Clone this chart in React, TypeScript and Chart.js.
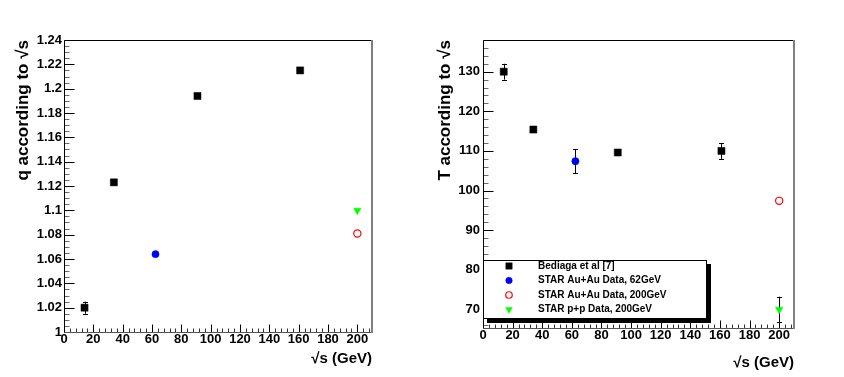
import React, { useEffect, useRef } from "react";
import { Chart, registerables } from "chart.js";
import { drawPoint } from "chart.js/helpers";

Chart.register(...registerables);

const FONT = "'Liberation Sans', Arial, Helvetica, sans-serif";

// ---------------- data ----------------
const seriesLabels = [
  "Bediaga et al [7]",
  "STAR Au+Au Data, 62GeV",
  "STAR Au+Au Data, 200GeV",
  "STAR p+p Data, 200GeV",
];

const bediagaSqrtS = [14, 34, 91, 161];
const bediagaQ = [1.02, 1.123, 1.194, 1.215];
const bediagaQErr = [0.005, 0, 0, 0];
const bediagaT = [130, 115.4, 109.6, 110];
const bediagaTErr = [2, 0, 0, 2];

const auau62SqrtS = [62.4];
const auau62Q = [1.064];
const auau62QErr = [0];
const auau62T = [107.4];
const auau62TErr = [3];

const auau200SqrtS = [200];
const auau200Q = [1.081];
const auau200QErr = [0];
const auau200T = [97.4];
const auau200TErr = [0];

const pp200SqrtS = [200];
const pp200Q = [1.1];
const pp200QErr = [0];
const pp200T = [70];
const pp200TErr = [3.2];

// axis ranges / ticks
const xRange = [0, 210];
const xStep = 20;
const qRange = [1, 1.24];
const qStep = 0.02;
const tRange = [65.3, 138];
const tStep = 10;

const xTitle = "√s (GeV)";
const qTitle = "q according to √s";
const tTitle = "T according to √s";

// ---------------- styles ----------------
const seriesStyles = [
  { pointStyle: "rect", pointRadius: 5, backgroundColor: "#000000", borderColor: "#000000", borderWidth: 0.5, rotation: 0 },
  { pointStyle: "circle", pointRadius: 3.6, backgroundColor: "#0000ff", borderColor: "#0000ff", borderWidth: 0.5, rotation: 0 },
  { pointStyle: "circle", pointRadius: 3.6, backgroundColor: "#ffffff", borderColor: "#ff0000", borderWidth: 1.2, rotation: 0 },
  { pointStyle: "triangle", pointRadius: 4.3, backgroundColor: "#00ff00", borderColor: "#00ff00", borderWidth: 0.5, rotation: 180 },
];

function pts(xs: number[], ys: number[]) {
  return xs.map((x, i) => ({ x, y: ys[i] }));
}

function buildDatasets(kind: "q" | "T") {
  const vals =
    kind === "q"
      ? [
          [bediagaSqrtS, bediagaQ, bediagaQErr],
          [auau62SqrtS, auau62Q, auau62QErr],
          [auau200SqrtS, auau200Q, auau200QErr],
          [pp200SqrtS, pp200Q, pp200QErr],
        ]
      : [
          [bediagaSqrtS, bediagaT, bediagaTErr],
          [auau62SqrtS, auau62T, auau62TErr],
          [auau200SqrtS, auau200T, auau200TErr],
          [pp200SqrtS, pp200T, pp200TErr],
        ];
  return vals.map((v, i) => ({
    label: seriesLabels[i],
    data: pts(v[0] as number[], v[1] as number[]),
    yErr: v[2] as number[],
    showLine: false,
    ...seriesStyles[i],
    pointHoverRadius: seriesStyles[i].pointRadius,
  }));
}

// ---------------- plugins ----------------
function tickList(scale: any, major: number, sub: number) {
  const minor = major / sub;
  const out: { v: number; major: boolean }[] = [];
  const start = Math.ceil(scale.min / minor - 1e-6);
  const end = Math.floor(scale.max / minor + 1e-6);
  for (let i = start; i <= end; i++) out.push({ v: i * minor, major: i % sub === 0 });
  return out;
}

const errorBarPlugin = {
  id: "errorBars",
  beforeDatasetsDraw(chart: any) {
    const { ctx, scales } = chart;
    const xs = scales.x;
    const ys = scales.y;
    ctx.save();
    ctx.strokeStyle = "#000";
    ctx.lineWidth = 1;
    chart.data.datasets.forEach((ds: any) => {
      (ds.data as any[]).forEach((p, i) => {
        const e = ds.yErr ? ds.yErr[i] : 0;
        if (!e) return;
        const px = Math.round(xs.getPixelForValue(p.x)) + 0.5;
        const y1 = ys.getPixelForValue(p.y - e);
        const y2 = ys.getPixelForValue(p.y + e);
        ctx.beginPath();
        ctx.moveTo(px, y1);
        ctx.lineTo(px, y2);
        ctx.moveTo(px - 2.5, Math.round(y1) + 0.5);
        ctx.lineTo(px + 2.5, Math.round(y1) + 0.5);
        ctx.moveTo(px - 2.5, Math.round(y2) + 0.5);
        ctx.lineTo(px + 2.5, Math.round(y2) + 0.5);
        ctx.stroke();
      });
    });
    ctx.restore();
  },
};

const rootAxesPlugin = {
  id: "rootAxes",
  afterDatasetsDraw(chart: any, _args: any, opts: any) {
    const { ctx, chartArea: a, scales } = chart;
    const xs = scales.x;
    const ys = scales.y;
    const L = Math.round(a.left) + 0.5;
    const T = Math.round(a.top) + 0.5;
    const R = Math.round(a.right);
    const B = Math.round(a.bottom) + 0.5;
    ctx.save();
    // ticks on y axis (inside frame)
    tickList(ys, opts.yMajor, opts.ySub).forEach((t) => {
      const py = Math.round(ys.getPixelForValue(t.v)) + 0.5;
      ctx.strokeStyle = t.major ? "#000" : "#6a6a6a";
      ctx.lineWidth = 1;
      ctx.beginPath();
      ctx.moveTo(L, py);
      ctx.lineTo(L + (t.major ? 10 : 5), py);
      ctx.stroke();
    });
    // ticks on x axis
    tickList(xs, opts.xMajor, opts.xSub).forEach((t) => {
      const px = Math.round(xs.getPixelForValue(t.v)) + 0.5;
      ctx.strokeStyle = t.major ? "#000" : "#333";
      ctx.lineWidth = 1;
      ctx.beginPath();
      ctx.moveTo(px, B);
      ctx.lineTo(px, B - (t.major ? 8 : 4));
      ctx.stroke();
    });
    // frame
    ctx.strokeStyle = "#000";
    ctx.lineWidth = 1;
    ctx.beginPath();
    ctx.moveTo(L, B);
    ctx.lineTo(L, T);
    ctx.lineTo(R, T);
    ctx.stroke();
    ctx.strokeStyle = "#555";
    ctx.beginPath();
    ctx.moveTo(L, B);
    ctx.lineTo(R, B);
    ctx.stroke();
    ctx.strokeStyle = "#808080";
    ctx.lineWidth = 2;
    ctx.beginPath();
    ctx.moveTo(R, T - 0.5);
    ctx.lineTo(R, B + 0.5);
    ctx.stroke();
    ctx.restore();
  },
};

const rootLegendPlugin = {
  id: "rootLegend",
  afterDraw(chart: any, _args: any, opts: any) {
    if (!opts || !opts.show) return;
    const { ctx } = chart;
    const { x, y, w, h, rows, markerX, textX, shadow } = opts;
    ctx.save();
    ctx.fillStyle = "#000";
    ctx.fillRect(x + shadow, y + shadow, w, h);
    ctx.fillStyle = "#fff";
    ctx.fillRect(x, y, w, h);
    ctx.strokeStyle = "#000";
    ctx.lineWidth = 1;
    ctx.strokeRect(x + 0.5, y + 0.5, w - 1, h - 1);
    chart.data.datasets.forEach((ds: any, i: number) => {
      const ry = rows[i];
      ctx.fillStyle = ds.backgroundColor;
      ctx.strokeStyle = ds.borderColor;
      ctx.lineWidth = ds.borderWidth;
      drawPoint(
        ctx,
        { pointStyle: ds.pointStyle, rotation: ds.rotation || 0, radius: ds.pointRadius * 0.9, borderWidth: ds.borderWidth } as any,
        markerX,
        ry
      );
      ctx.fillStyle = "#000";
      ctx.font = `bold 10px ${FONT}`;
      ctx.textAlign = "left";
      ctx.textBaseline = "middle";
      ctx.fillText(ds.label, textX, ry);
    });
    ctx.restore();
  },
};

// ---------------- config ----------------
function buildConfig(kind: "q" | "T"): any {
  const isQ = kind === "q";
  const yAxisWidth = isQ ? 64 : 61;
  const xAxisHeight = isQ ? 45 : 49;
  const yRange = isQ ? qRange : tRange;
  const tickFont = { family: FONT, size: 13, weight: "bold" as const };
  return {
    type: "scatter",
    data: { datasets: buildDatasets(kind) },
    plugins: [errorBarPlugin, rootAxesPlugin, rootLegendPlugin],
    options: {
      animation: false,
      responsive: false,
      devicePixelRatio: 1,
      events: [],
      layout: { padding: { left: 0, top: 40, right: 50, bottom: 0 } },
      plugins: {
        legend: { display: false },
        tooltip: { enabled: false },
        rootAxes: { yMajor: isQ ? qStep : tStep, ySub: isQ ? 4 : 5, xMajor: xStep, xSub: 5 },
        rootLegend: isQ
          ? { show: false }
          : { show: true, x: 61, y: 260, w: 224, h: 59, shadow: 4, rows: [266, 280.5, 295, 309.5], markerX: 87, textX: 116 },
      },
      scales: {
        x: {
          type: "linear",
          min: xRange[0],
          max: xRange[1],
          grid: { display: false, drawTicks: false },
          border: { display: false },
          ticks: {
            stepSize: xStep,
            includeBounds: false,
            autoSkip: false,
            maxRotation: 0,
            padding: 0,
            color: "#000",
            font: tickFont,
          },
          title: {
            display: true,
            text: xTitle,
            align: "end",
            color: "#000",
            font: { family: FONT, size: 15, weight: "bold" },
            padding: { top: 0, bottom: isQ ? 9 : 5 },
          },
          afterFit: (s: any) => {
            s.height = xAxisHeight;
          },
        },
        y: {
          type: "linear",
          min: yRange[0],
          max: yRange[1],
          grid: { display: false, drawTicks: false },
          border: { display: false },
          ticks: {
            stepSize: isQ ? qStep : tStep,
            includeBounds: false,
            autoSkip: false,
            padding: isQ ? 2 : 3,
            color: "#000",
            font: tickFont,
            callback: (v: number) => String(Number(Number(v).toFixed(3))),
          },
          title: {
            display: true,
            text: isQ ? qTitle : tTitle,
            align: "end",
            color: "#000",
            font: { family: FONT, size: 17, weight: "bold" },
            padding: { top: 13, bottom: 0 },
          },
          afterFit: (s: any) => {
            s.width = yAxisWidth;
          },
        },
      },
    },
  };
}

function Panel({ kind, left }: { kind: "q" | "T"; left: number }) {
  const ref = useRef<HTMLCanvasElement>(null);
  useEffect(() => {
    const chart = new Chart(ref.current as HTMLCanvasElement, buildConfig(kind));
    return () => chart.destroy();
  }, [kind]);
  return (
    <canvas
      ref={ref}
      width={422}
      height={377}
      style={{ position: "absolute", left, top: 0, width: 422, height: 377, display: "block" }}
    />
  );
}

export default function App() {
  return (
    <div style={{ position: "absolute", left: 0, top: 0, width: 844, height: 377, background: "#fff", overflow: "hidden" }}>
      <Panel kind="q" left={0} />
      <Panel kind="T" left={422} />
    </div>
  );
}
